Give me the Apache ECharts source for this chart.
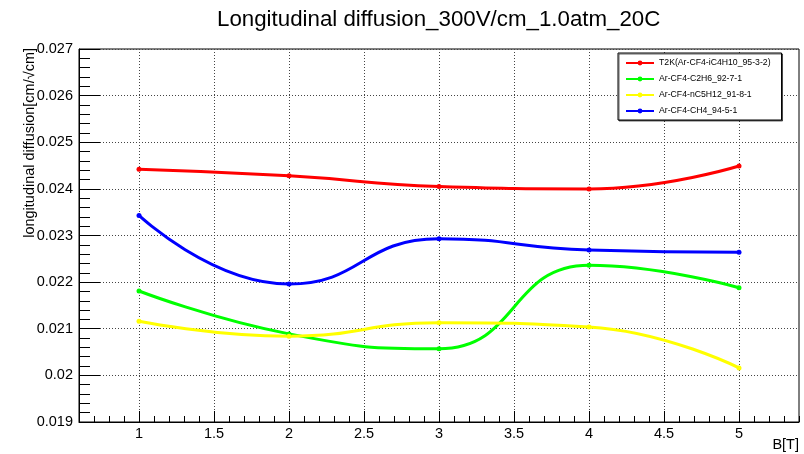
<!DOCTYPE html>
<html>
<head>
<meta charset="utf-8">
<script src="https://cdn.jsdelivr.net/npm/echarts@6/dist/echarts.min.js"></script>
<style>
  html, body { margin: 0; padding: 0; background: #fff; }
  #chart { width: 804px; height: 454px; }
</style>
</head>
<body>
<div id="chart"></div>
<script>
// B field values [T]
const bField = [1, 2, 3, 4, 5];
// longitudinal diffusion [cm/sqrt(cm)] per gas mixture
const t2kGas = [0.02442, 0.02428, 0.02405, 0.02400, 0.02449];
const c2h6Gas = [0.02181, 0.02089, 0.02057, 0.02236, 0.02188];
const nc5h12Gas = [0.02116, 0.02084, 0.02113, 0.02104, 0.02016];
const ch4Gas = [0.02343, 0.02196, 0.02293, 0.02269, 0.02264];

const seriesNames = ['T2K(Ar-CF4-iC4H10_95-3-2)', 'Ar-CF4-C2H6_92-7-1', 'Ar-CF4-nC5H12_91-8-1', 'Ar-CF4-CH4_94-5-1'];
const seriesColors = ['#ff0000', '#00ff00', '#ffff00', '#0000ff'];
const xMajorTicks = [1, 1.5, 2, 2.5, 3, 3.5, 4, 4.5, 5];

const FONT = 'Liberation Sans, Arial, Helvetica, sans-serif';

function pairs(vals) {
  return bField.map((b, i) => [b, vals[i]]);
}

function makeLine(name, vals, color) {
  return {
    name: name,
    type: 'line',
    xAxisIndex: 0,
    yAxisIndex: 0,
    smooth: 0.5,
    symbol: 'circle',
    symbolSize: 5,
    showSymbol: true,
    animation: false,
    silent: true,
    itemStyle: { color: color },
    lineStyle: { color: color, width: 3 },
    data: pairs(vals)
  };
}

const chart = echarts.init(document.getElementById('chart'), null, { renderer: 'canvas' });

let option = {
  backgroundColor: '#ffffff',
  animation: false,
  textStyle: { fontFamily: FONT },
  title: {
    text: 'Longitudinal diffusion_300V/cm_1.0atm_20C',
    left: 217,
    top: 9,
    padding: 0,
    textStyle: { fontFamily: FONT, fontSize: 22.3, fontWeight: 'normal', color: '#000' }
  },
  grid: {
    left: 79,
    right: 5,
    top: 49,
    bottom: 32,
    show: true,
    borderColor: '#000',
    borderWidth: 1,
    backgroundColor: 'transparent'
  },
  legend: {
    orient: 'vertical',
    left: 618,
    top: 53,
    padding: [4, 11, 3, 7],
    itemGap: 4,
    itemWidth: 28,
    itemHeight: 6,
    backgroundColor: '#fff',
    borderColor: '#000',
    borderWidth: 1,
    shadowColor: 'rgba(0,0,0,0.6)',
    shadowOffsetX: 1,
    shadowOffsetY: 1,
    textStyle: { fontFamily: FONT, fontSize: 8.7, lineHeight: 12, color: '#000' },
    data: seriesNames
  },
  xAxis: [{
    type: 'value',
    min: 0.6,
    max: 5.4,
    axisLine: { onZero: false, lineStyle: { color: '#000', width: 1 } },
    axisTick: { inside: true, length: 11, customValues: xMajorTicks, lineStyle: { color: '#000' } },
    axisLabel: { customValues: xMajorTicks, margin: 4, fontSize: 14.5, color: '#000', fontFamily: FONT },
    splitLine: { show: true, lineStyle: { color: '#444', type: [1, 2], width: 1 } }
  }, {
    // minor ticks only
    type: 'value',
    min: 0.6,
    max: 5.4,
    interval: 0.1,
    position: 'bottom',
    axisLine: { show: false },
    axisTick: { inside: true, length: 6, lineStyle: { color: '#000' } },
    axisLabel: { show: false },
    splitLine: { show: false }
  }],
  yAxis: {
    type: 'value',
    min: 0.019,
    max: 0.027,
    interval: 0.001,
    axisLine: { show: true, lineStyle: { color: '#000', width: 1 } },
    axisTick: { show: true, inside: true, length: 21, lineStyle: { color: '#000' } },
    minorTick: { show: true, splitNumber: 5, length: 11, lineStyle: { color: '#000' } },
    axisLabel: { margin: 6, fontSize: 14.5, color: '#000', fontFamily: FONT },
    splitLine: { show: true, lineStyle: { color: '#444', type: [1, 2], width: 1 } }
  },
  graphic: [{
    type: 'text',
    x: 30,
    y: 48,
    rotation: Math.PI / 2,
    style: {
      text: 'longitudinal diffusion[cm/√cm]',
      font: '14.5px ' + FONT,
      fill: '#000',
      align: 'right',
      verticalAlign: 'middle'
    }
  }, {
    type: 'text',
    x: 799,
    y: 445,
    style: {
      text: 'B[T]',
      font: '14.5px ' + FONT,
      fill: '#000',
      align: 'right',
      verticalAlign: 'middle'
    }
  }],
  series: [
    makeLine(seriesNames[0], t2kGas, seriesColors[0]),
    makeLine(seriesNames[1], c2h6Gas, seriesColors[1]),
    makeLine(seriesNames[2], nc5h12Gas, seriesColors[2]),
    makeLine(seriesNames[3], ch4Gas, seriesColors[3])
  ]
};

chart.setOption(option);
</script>
</body>
</html>
